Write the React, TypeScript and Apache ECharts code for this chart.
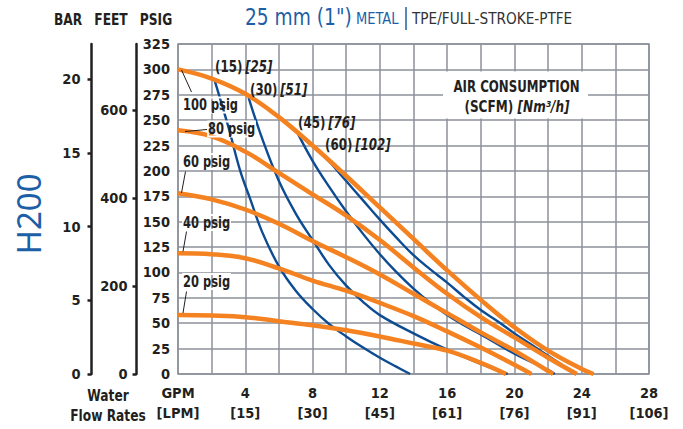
import React, { useEffect, useRef } from 'react';
import * as echarts from 'echarts';

// ---- data ----
const gpmLabels = [4, 8, 12, 16, 20, 24, 28];
const lpmLabels = [15, 30, 45, 61, 76, 91, 106];
const barTicks = [0, 5, 10, 15, 20];
const feetTicks = [0, 200, 400, 600];

// pressure curves: [GPM, PSIG]
const psig100 = [[0, 300], [2, 291], [4, 276], [6, 253], [8, 225], [10, 195], [12, 164], [14, 133], [16, 102], [18, 73], [20, 46], [22, 23], [24, 5], [24.7, 0]];
const psig80 = [[0, 240], [2, 234], [4, 219], [6, 198], [8, 177], [10, 156], [12, 132], [14, 105], [16, 79], [18, 56], [20, 36], [22, 16], [23.7, 0]];
const psig60 = [[0, 178], [2, 172], [4, 162], [6, 148], [8, 131], [10, 115], [12, 98], [14, 79], [16, 60], [18, 41], [20, 23], [22, 3], [22.3, 0]];
const psig40 = [[0, 119], [2, 118], [4, 114], [6, 104], [8, 92], [10, 82], [12, 70], [14, 57], [16, 42], [18, 26], [20, 9], [21, 0]];
const psig20 = [[0, 58], [2, 57.5], [4, 56], [6, 52], [8, 48], [10, 43], [12, 37], [14, 30], [16, 23], [18, 11], [19.5, 0]];

// air consumption curves: [GPM, PSIG]
const scfm15 = [[2.2, 288], [3, 243], [3.7, 200], [4.3, 172], [5, 140], [6, 106], [7, 82], [8, 64], [9, 49], [10, 37], [11, 26], [12, 16], [13, 7], [13.8, 0]];
const scfm30 = [[4.2, 272], [5, 232], [6, 190], [7, 158], [8, 132], [9, 107], [10, 87], [11, 71], [12, 58], [14, 40], [16, 24], [18, 10], [19.6, 0]];
const scfm45 = [[7.15, 236], [8, 210], [9, 184], [10, 160], [11, 138], [12, 118], [13, 100], [14, 84], [15, 70], [16, 58], [17, 48], [18, 39], [20, 20], [22, 4], [22.4, 0]];
const scfm60 = [[8.55, 216], [9, 209], [10, 190], [11, 171], [12, 152], [13, 134], [14, 117], [15, 103], [16, 90], [17, 76], [18, 63], [19, 52], [20, 40], [21, 29], [22, 18], [23, 7], [23.6, 0]];

const PSI_MAX = 325;
const FEET_PER_PSI = 2.31;
const BAR_PER_PSI = 1 / 14.5038;

const ORANGE = '#f58220';
const BLUE = '#0d4c92';
const TITLE_BLUE = '#1d5fa7';
const INK = '#231f20';
const GRIDC = '#8c9199';
const COND = "'DejaVu Sans Condensed', 'DejaVu Sans', sans-serif";
const SX = 0.85;

function txt(x: number, y: number, text: string, extra: any = {}, sx: number = SX) {
  return {
    type: 'text', x, y, z: 100, scaleX: sx,
    style: {
      text, fill: INK, font: `bold 15px ${COND}`,
      textAlign: 'left', textVerticalAlign: 'middle', ...extra,
    },
  };
}
function leader(x1: number, y1: number, x2: number, y2: number) {
  return { type: 'line', z: 100, shape: { x1, y1, x2, y2 }, style: { stroke: INK, lineWidth: 1 } };
}
function flowLabel(x: number, y: number, a: string, b: string) {
  return {
    type: 'text', x, y, z: 100, scaleX: SX,
    style: {
      text: `{a|${a}} {b|${b}}`, textAlign: 'left', textVerticalAlign: 'middle',
      rich: {
        a: { fontFamily: COND, fontWeight: 'bold', fontSize: 15.5, fill: INK },
        b: { fontFamily: COND, fontWeight: 'bold', fontStyle: 'italic', fontSize: 15.5, fill: INK },
      },
    },
  };
}

function lineSeries(name: string, data: number[][], color: string, width: number) {
  return {
    name, type: 'line', data, smooth: 0.4, symbol: 'none',
    lineStyle: { color, width, cap: 'butt' }, silent: true,
  };
}

const axisFont = { color: INK, fontFamily: COND, fontWeight: 'bold', fontSize: 14.5 };

export default function App() {
  const ref = useRef<HTMLDivElement>(null);
  useEffect(() => {
    const chart = echarts.init(ref.current!, null, { renderer: 'svg' });
    const option: any = {
      animation: false,
      backgroundColor: '#fff',
      grid: { left: 178, top: 44, right: 34, bottom: 55, show: true, borderColor: GRIDC, borderWidth: 1.5, backgroundColor: 'transparent' },
      xAxis: {
        type: 'value', min: 0, max: 28, interval: 2,
        axisLine: { show: false }, axisTick: { show: false },
        splitLine: { show: true, lineStyle: { color: GRIDC, width: 1.5 } },
        axisLabel: {
          margin: 9, ...axisFont, lineHeight: 20,
          formatter: (v: number) => {
            if (v === 0) return 'GPM\n[LPM]';
            const i = gpmLabels.indexOf(v);
            return i >= 0 ? `${v}\n[${lpmLabels[i]}]` : '';
          },
        },
      },
      yAxis: [
        {
          type: 'value', min: 0, max: PSI_MAX, interval: 25, position: 'left',
          axisLine: { show: false }, axisTick: { show: false },
          splitLine: { show: true, lineStyle: { color: GRIDC, width: 1.5 } },
          axisLabel: { margin: 8, ...axisFont },
        },
        {
          type: 'value', min: 0, max: PSI_MAX * FEET_PER_PSI, position: 'left', offset: 41.5,
          splitLine: { show: false },
          axisLine: { show: true, lineStyle: { color: INK, width: 2.5 } },
          axisTick: { show: true, length: 4, lineStyle: { color: INK, width: 2.5 }, customValues: feetTicks },
          axisLabel: { margin: 9, ...axisFont, customValues: feetTicks },
        },
        {
          type: 'value', min: 0, max: PSI_MAX * BAR_PER_PSI, position: 'left', offset: 86.5,
          splitLine: { show: false },
          axisLine: { show: true, lineStyle: { color: INK, width: 2.5 } },
          axisTick: { show: true, length: 4, lineStyle: { color: INK, width: 2.5 }, customValues: barTicks },
          axisLabel: { margin: 11, ...axisFont, customValues: barTicks },
        },
      ],
      series: [
        lineSeries('(15)', scfm15, BLUE, 2.4),
        lineSeries('(30)', scfm30, BLUE, 2.4),
        lineSeries('(45)', scfm45, BLUE, 2.4),
        lineSeries('(60)', scfm60, BLUE, 2.4),
        lineSeries('20 psig', psig20, ORANGE, 4.5),
        lineSeries('40 psig', psig40, ORANGE, 4.5),
        lineSeries('60 psig', psig60, ORANGE, 4.5),
        lineSeries('80 psig', psig80, ORANGE, 4.5),
        lineSeries('100 psig', psig100, ORANGE, 4.5),
      ],
      graphic: [
        // title
        txt(245, 17, '25 mm (1")', { font: `23px ${COND}`, fill: TITLE_BLUE }, 0.9),
        txt(356, 18.5, 'METAL', { font: `16.5px ${COND}`, fill: TITLE_BLUE }, 0.88),
        { type: 'line', z: 100, shape: { x1: 406, y1: 7, x2: 406, y2: 30 }, style: { stroke: TITLE_BLUE, lineWidth: 1.5 } },
        txt(412, 18.5, 'TPE/FULL-STROKE-PTFE', { font: `16.5px ${COND}`, fill: '#333333' }, 0.92),
        // axis headers
        txt(68, 19, 'BAR', { textAlign: 'center', font: `bold 16px ${COND}` }),
        txt(111, 19, 'FEET', { textAlign: 'center', font: `bold 16px ${COND}` }),
        txt(156, 19, 'PSIG', { textAlign: 'center', font: `bold 16px ${COND}` }),
        // model name
        {
          type: 'text', x: 28, y: 214, rotation: Math.PI / 2, z: 100,
          style: { text: 'H200', fill: TITLE_BLUE, font: "33px 'Noto Sans', 'Open Sans', sans-serif", textAlign: 'center', textVerticalAlign: 'middle' },
        },
        // water flow rates
        txt(108, 395, 'Water', { textAlign: 'center', font: `bold 16px ${COND}` }),
        txt(108, 415, 'Flow Rates', { textAlign: 'center', font: `bold 16px ${COND}` }),
        // psig labels
        leader(181.5, 70, 191.5, 92),
        txt(183, 105, '100 psig', { textBorderColor: '#fff', textBorderWidth: 2 }),
        leader(185, 131.5, 207, 129.5),
        txt(208, 129, '80 psig', { textBorderColor: '#fff', textBorderWidth: 2 }),
        leader(185.5, 171.5, 181.5, 193),
        txt(183, 161.5, '60 psig', { textBorderColor: '#fff', textBorderWidth: 2 }),
        leader(186.5, 231.5, 183, 251.5),
        txt(183, 222.5, '40 psig', { textBorderColor: '#fff', textBorderWidth: 2 }),
        leader(186.5, 291.5, 183, 313),
        txt(183, 281.5, '20 psig', { textBorderColor: '#fff', textBorderWidth: 2 }),
        // air flow labels
        flowLabel(215, 66.5, '(15)', '[25]'),
        flowLabel(250, 90, '(30)', '[51]'),
        flowLabel(298, 123, '(45)', '[76]'),
        flowLabel(325, 145, '(60)', '[102]'),
        // air consumption box
        { type: 'rect', z: 99, shape: { x: 443, y: 71.5, width: 145, height: 47 }, style: { fill: '#fff' } },
        txt(516.5, 86, 'AIR CONSUMPTION', { textAlign: 'center', font: `bold 16px ${COND}` }, 0.82),
        {
          type: 'text', x: 517, y: 106.5, z: 100, scaleX: 0.84,
          style: {
            text: '{n|(SCFM) }{i|[Nm³/h]}', textAlign: 'center', textVerticalAlign: 'middle',
            rich: {
              n: { fontFamily: COND, fontWeight: 'bold', fontSize: 16, fill: INK },
              i: { fontFamily: COND, fontWeight: 'bold', fontStyle: 'italic', fontSize: 16, fill: INK },
            },
          },
        },
      ],
    };
    chart.setOption(option);
    return () => chart.dispose();
  }, []);
  return <div ref={ref} style={{ position: 'fixed', left: 0, top: 0, width: 683, height: 429, background: '#fff' }} />;
}
